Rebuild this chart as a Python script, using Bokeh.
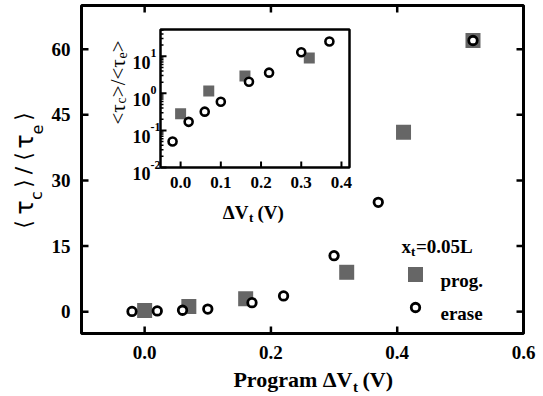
import math
from bokeh.plotting import figure
from bokeh.models import Range1d, LogScale
from bokeh.core.properties import value
from bokeh.embed import file_html
from bokeh.resources import INLINE

# ---------------- data ----------------
prog_x = [0.0, 0.07, 0.16, 0.32, 0.41, 0.52]
prog_y = [0.28, 1.15, 2.95, 9.0, 41.0, 62.0]
erase_x = [-0.02, 0.02, 0.06, 0.10, 0.17, 0.22, 0.30, 0.37, 0.52]
erase_y = [0.05, 0.17, 0.32, 0.59, 2.05, 3.6, 12.8, 25.0, 62.0]

x_ticks = [0.0, 0.2, 0.4, 0.6]
x_tick_labels = ["0.0", "0.2", "0.4", "0.6"]
y_ticks = [0, 15, 30, 45, 60]
y_tick_labels = ["0", "15", "30", "45", "60"]
inset_x_ticks = [0.0, 0.1, 0.2, 0.3, 0.4]
inset_x_labels = ["0.0", "0.1", "0.2", "0.3", "0.4"]
inset_decades = [-2, -1, 0, 1]

x_range = (-0.1, 0.6)
y_range = (-5.0, 70.0)
inset_x_range = (-0.05, 0.42)
inset_log_range = (-2.0, 1.72)
inset_x_max = 0.4   # inset shows the points up to this program shift

legend_title = "x"
legend_title_sub = "t"
legend_title_rest = "=0.05L"
series_names = ["prog.", "erase"]

# ---------------- layout (pixels) ----------------
W, H = 543, 396
FL, FR, FT, FB = 81, 523, 5, 333          # main plot box
IL, IR, IT, IB = 160, 349, 29, 167        # inset box
SERIF = "Liberation Serif"
GRAY = "#666666"

sxp = (x_range[1] - x_range[0]) / (FR - FL)   # data per pixel
syp = (y_range[1] - y_range[0]) / (FB - FT)


def dx(px):
    return x_range[0] + (px - FL) * sxp


def dy(py):
    return y_range[1] - (py - FT) * syp


p = figure(frame_width=W, frame_height=H, min_border=0,
           x_range=Range1d(dx(0), dx(W)), y_range=Range1d(dy(H), dy(0)),
           x_axis_type=None, y_axis_type=None,
           output_backend="svg", toolbar_location=None,
           background_fill_color="white", border_fill_color="white")
p.xgrid.visible = False
p.ygrid.visible = False
p.outline_line_color = None


def txt(px, py, text, size, bold=True, font=SERIF, align="left", baseline="alphabetic", angle=0.0):
    p.text(x=[dx(px)], y=[dy(py)], text=[text], text_font=value(font),
           text_font_size=f"{size}px", text_font_style="bold" if bold else "normal",
           text_align=align, text_baseline=baseline, angle=angle, text_color="black")


# ---------------- main box, ticks, tick labels ----------------
p.quad(left=[x_range[0]], right=[x_range[1]], bottom=[y_range[0]], top=[y_range[1]],
       fill_color=None, line_color="black", line_width=3)
tx = 7 * sxp
ty = 7 * syp
nx, ny = len(x_ticks), len(y_ticks)
p.segment(x0=x_ticks, y0=[y_range[0]] * nx, x1=x_ticks, y1=[y_range[0] + ty] * nx,
          line_color="black", line_width=2.5)
p.segment(x0=x_ticks, y0=[y_range[1]] * nx, x1=x_ticks, y1=[y_range[1] - ty] * nx,
          line_color="black", line_width=2.5)
p.segment(x0=[x_range[0]] * ny, y0=y_ticks, x1=[x_range[0] + tx] * ny, y1=y_ticks,
          line_color="black", line_width=2.5)
p.segment(x0=[x_range[1]] * ny, y0=y_ticks, x1=[x_range[1] - tx] * ny, y1=y_ticks,
          line_color="black", line_width=2.5)
p.text(x=x_ticks, y=[dy(FB + 12)] * nx, text=x_tick_labels, text_font=value(SERIF),
       text_font_style="bold", text_font_size="19px", text_align="center", text_baseline="top")
p.text(x=[dx(FL - 11)] * ny, y=y_ticks, text=y_tick_labels, text_font=value(SERIF),
       text_font_style="bold", text_font_size="19px", text_align="right", text_baseline="middle")

# main data
p.scatter(prog_x, prog_y, marker="square", size=15, fill_color=GRAY, line_color=GRAY, line_width=0)
p.scatter(erase_x, erase_y, marker="circle", size=8.5, fill_color="white", line_color="black",
          line_width=2.8)

# ---------------- inset via extra ranges ----------------
ixpp = (inset_x_range[1] - inset_x_range[0]) / (IR - IL)
ix0 = inset_x_range[0] - IL * ixpp
iypp = (inset_log_range[1] - inset_log_range[0]) / (IB - IT)
iy0 = inset_log_range[0] - (H - IB) * iypp
p.extra_x_ranges = {"ix": Range1d(ix0, ix0 + W * ixpp)}
p.extra_y_ranges = {"iy": Range1d(10 ** iy0, 10 ** (iy0 + H * iypp))}
p.extra_y_scales = {"iy": LogScale()}
IK = dict(x_range_name="ix", y_range_name="iy")

ybot = 10 ** inset_log_range[0]
ytop = 10 ** inset_log_range[1]
p.quad(left=[inset_x_range[0]], right=[inset_x_range[1]], bottom=[ybot], top=[ytop],
       fill_color="white", line_color="black", line_width=2.5, **IK)

ni = len(inset_x_ticks)
p.segment(x0=inset_x_ticks, y0=[ybot] * ni, x1=inset_x_ticks, y1=[ybot * 10 ** (6 * iypp)] * ni,
          line_color="black", line_width=2, **IK)
maj = [10.0 ** d for d in inset_decades]
mnr = [k * 10.0 ** d for d in inset_decades for k in range(2, 10) if k * 10.0 ** d < ytop]
xl = inset_x_range[0]
p.segment(x0=[xl] * len(maj), y0=maj, x1=[xl + 6 * ixpp] * len(maj), y1=maj,
          line_color="black", line_width=2, **IK)
p.segment(x0=[xl] * len(mnr), y0=mnr, x1=[xl + 3 * ixpp] * len(mnr), y1=mnr,
          line_color="black", line_width=1.5, **IK)

ipx = [x for x in prog_x if x <= inset_x_max]
ipy = [y for x, y in zip(prog_x, prog_y) if x <= inset_x_max]
iex = [x for x in erase_x if x <= inset_x_max]
iey = [y for x, y in zip(erase_x, erase_y) if x <= inset_x_max]
p.scatter(ipx, ipy, marker="square", size=11, fill_color=GRAY, line_color=GRAY, line_width=0, **IK)
p.scatter(iex, iey, marker="circle", size=8, fill_color="white", line_color="black",
          line_width=2.6, **IK)

p.text(x=inset_x_ticks, y=[ybot / 10 ** (9 * iypp)] * ni, text=inset_x_labels,
       text_font=value(SERIF), text_font_style="bold", text_font_size="17px",
       text_align="center", text_baseline="top", **IK)
p.text(x=[xl - 10 * ixpp] * 4, y=[10.0 ** d / 10 ** (6 * iypp) for d in inset_decades],
       text=["10"] * 4, text_font=value(SERIF), text_font_style="bold", text_font_size="18px",
       text_align="right", text_baseline="alphabetic", **IK)
p.text(x=[xl - 10 * ixpp] * 4, y=[10.0 ** d * 10 ** (3 * iypp) for d in inset_decades],
       text=[str(d) for d in inset_decades], text_font=value(SERIF), text_font_style="bold",
       text_font_size="12px", text_align="left", text_baseline="alphabetic", **IK)

# ---------------- axis titles ----------------
# main x: Program ΔV_t (V)
txt(352, 379, "Program \u0394V", 22, align="right")
txt(352.5, 386, "t", 15)
txt(362, 379, "(V)", 22)

# main y: <τc>/<τe> rotated, glyph by glyph
ML = [("\u27e8", 224, 23, 22), ("\u03c4", 207, 24, 24), ("c", 195, 36, 16), ("\u27e9", 183, 23, 22),
      ("/", 170, 23, 22), ("\u27e8", 156, 23, 22), ("\u03c4", 141, 24, 24), ("e", 129, 36, 16),
      ("\u27e9", 116, 23, 22)]
for t, py, px, s in ML:
    txt(px, py, t, s, bold=False, font="DejaVu Sans", align="center", baseline="middle",
        angle=math.pi / 2)

# inset x: ΔV_t (V)
txt(248, 212, "\u0394V", 19, align="right")
txt(248.5, 217, "t", 13)
txt(257, 212, "(V)", 19)

# inset y: <τc>/<τe>
pos = 124.0
for t, sub in [("<", 0), ("\u03c4", 0), ("c", 1), (">", 0), ("/", 0), ("<", 0), ("\u03c4", 0),
               ("e", 1), (">", 0)]:
    size = 14 if sub else 21
    wid = {"<": 0.564, ">": 0.564, "/": 0.278, "\u03c4": 0.44, "c": 0.444, "e": 0.444}[t]
    txt(121 if sub else 117, pos, t, size, bold=False, angle=math.pi / 2)
    pos -= wid * size

# ---------------- legend ----------------
txt(401, 246, legend_title, 19)
txt(410.5, 251, legend_title_sub, 13)
txt(415.5, 246, legend_title_rest, 19)
p.scatter([dx(415)], [dy(274)], marker="square", size=15, fill_color=GRAY, line_color=GRAY, line_width=0)
p.scatter([dx(415)], [dy(307)], marker="circle", size=8.5, fill_color="white", line_color="black",
          line_width=2.8)
txt(440, 280, series_names[0], 19)
txt(440, 313, series_names[1], 19)

open("out.html", "w").write(file_html(p, INLINE))
